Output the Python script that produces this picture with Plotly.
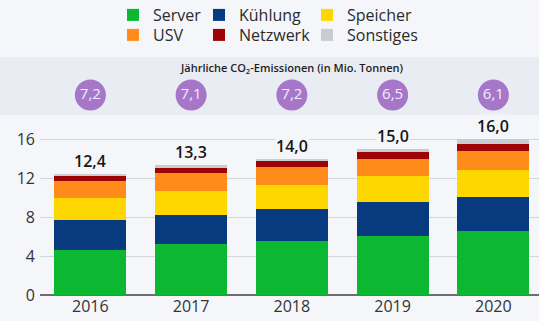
import plotly.graph_objects as go

# Annual CO2 emissions by data-centre component (Mio. Tonnen)
years = ["2016", "2017", "2018", "2019", "2020"]
server = [4.65, 5.2, 5.55, 6.1, 6.6]
kuehlung = [3.0, 3.05, 3.25, 3.4, 3.5]
speicher = [2.3, 2.45, 2.5, 2.67, 2.75]
usv = [1.75, 1.8, 1.8, 1.83, 1.88]
netzwerk = [0.55, 0.5, 0.6, 0.68, 0.76]
sonstiges = [0.15, 0.3, 0.3, 0.32, 0.51]
totals = [12.4, 13.3, 14.0, 15.0, 16.0]
per_year = [7.2, 7.1, 7.2, 6.5, 6.1]
y_ticks = [0, 4, 8, 12, 16]

series = [
    ("Server", server, "#0cb832"),
    ("Kühlung", kuehlung, "#083a80"),
    ("Speicher", speicher, "#ffd700"),
    ("USV", usv, "#ff8c1a"),
    ("Netzwerk", netzwerk, "#9e0303"),
    ("Sonstiges", sonstiges, "#c8ccd3"),
]

BG = "#f4f6fa"
BAND = "#e9edf3"
W, H = 539, 321
FONT = "Open Sans"

m_l, m_r, m_t, m_b = 40, 0, 57, 26
plot_w = W - m_l - m_r
plot_h = H - m_t - m_b


def de(v):
    return f"{v:.1f}".replace(".", ",")


def px_x(px):
    return (px - m_l) / plot_w


def px_y(py):
    return (H - m_b - py) / plot_h


# legend entry positions (container pixels): left edge x, row centre y
legend_pos = {
    "Server": (113, 15), "Kühlung": (199, 15), "Speicher": (307, 15),
    "USV": (113, 35), "Netzwerk": (199, 35), "Sonstiges": (307, 35),
}

fig = go.Figure()
legend_layouts = {}
for i, (name, vals, color) in enumerate(series):
    lg = "legend" if i == 0 else f"legend{i + 1}"
    fig.add_trace(go.Bar(
        x=years, y=vals, name=name, marker_color=color,
        marker_line_width=0, legend=lg, xaxis="x", yaxis="y",
    ))
    lx, ly = legend_pos[name]
    legend_layouts[lg] = dict(
        xref="container", yref="container",
        x=lx / W, y=1 - ly / H, xanchor="left", yanchor="middle",
        bgcolor="rgba(0,0,0,0)", borderwidth=0,
        font=dict(family=FONT, size=16, color="#2b2b2b"),
        orientation="v", tracegroupgap=0,
    )

# purple circles with the yearly values, on their own x/y pair in the band
fig.add_trace(go.Scatter(
    x=years, y=[0] * len(years), xaxis="x2", yaxis="y2",
    mode="markers+text",
    marker=dict(size=31, color="#a677c8", line_width=0),
    text=[de(v) for v in per_year], textposition="middle center",
    textfont=dict(family=FONT, size=15, color="#f3ecfa"),
    showlegend=False, hoverinfo="skip",
))

# total labels above each stack (category index positions on the x axis)
annotations = []
for idx, t in enumerate(totals):
    annotations.append(dict(
        x=idx, y=t, xref="x", yref="y", text=de(t), showarrow=False,
        yanchor="bottom", yshift=1, bgcolor=BG, borderpad=0,
        font=dict(family=FONT, size=16, color="#151515", weight=600),
    ))
annotations.append(dict(
    x=px_x(292), y=px_y(68), xref="paper", yref="paper",
    text="Jährliche CO<sub>2</sub>-Emissionen (in Mio. Tonnen)",
    showarrow=False, xanchor="center", yanchor="middle",
    font=dict(family=FONT, size=11, color="#1e1e1e", weight=600),
))

band_bottom = px_y(115)
x_range = [-0.5, 4.453]

fig.update_layout(
    width=W, height=H, barmode="stack", bargap=0.285,
    margin=dict(l=m_l, r=m_r, t=m_t, b=m_b, autoexpand=False),
    paper_bgcolor=BG, plot_bgcolor=BG,
    font=dict(family=FONT),
    annotations=annotations,
    shapes=[dict(
        type="rect", xref="paper", yref="paper",
        x0=px_x(0), x1=px_x(W + 2), y0=band_bottom, y1=1,
        fillcolor=BAND, line_width=0, layer="below",
    )],
    xaxis=dict(
        type="category", categoryarray=years, range=x_range,
        anchor="y", showgrid=False, zeroline=False,
        showline=False, ticks="", automargin=False,
        tickfont=dict(family=FONT, size=16, color="#333333"),
    ),
    yaxis=dict(
        anchor="x", domain=[0, px_y(120)], range=[0, 17.95],
        tickvals=y_ticks, ticktext=[str(v) for v in y_ticks],
        showgrid=True, gridcolor="#d2d6dd", gridwidth=1,
        zeroline=True, zerolinecolor="#6d6d6d", zerolinewidth=1.5,
        ticks="", ticklabelstandoff=4, automargin=False,
        tickfont=dict(family=FONT, size=16, color="#333333"),
    ),
    xaxis2=dict(
        type="category", categoryarray=years, range=x_range,
        anchor="y2", visible=False, fixedrange=True,
    ),
    yaxis2=dict(
        anchor="x2", domain=[band_bottom, 1], range=[-1, 1.9],
        visible=False, fixedrange=True,
    ),
    **legend_layouts,
)

fig.write_html("out.html")
